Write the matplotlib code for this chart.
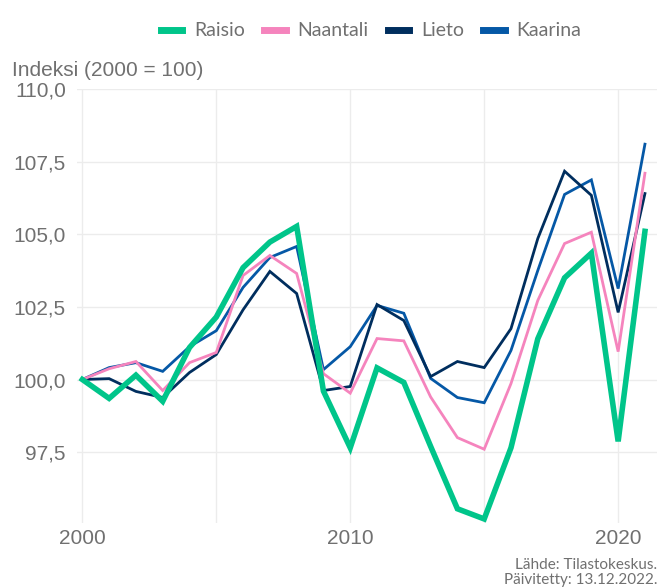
import matplotlib
matplotlib.use("Agg")
import matplotlib.pyplot as plt
from matplotlib.ticker import FixedLocator, FuncFormatter

years = list(range(2000, 2022))
raisio = [100.0, 99.35, 100.15, 99.25, 101.1, 102.15, 103.85, 104.73, 105.27, 99.6, 97.65,
          100.4, 99.9, 97.7, 95.55, 95.2, 97.65, 101.4, 103.5, 104.35, 97.87, 105.1]
naantali = [100.0, 100.37, 100.62, 99.62, 100.58, 100.93, 103.58, 104.27, 103.65, 100.2, 99.53,
            101.41, 101.33, 99.4, 98.0, 97.6, 99.86, 102.72, 104.68, 105.07, 100.96, 107.1]
lieto = [100.0, 100.03, 99.59, 99.38, 100.24, 100.86, 102.4, 103.72, 102.96, 99.62, 99.76,
         102.58, 102.03, 100.1, 100.62, 100.41, 101.75, 104.85, 107.17, 106.34, 102.31, 106.4]
kaarina = [100.0, 100.41, 100.58, 100.28, 101.13, 101.68, 103.17, 104.2, 104.58, 100.34, 101.13,
           102.55, 102.28, 100.04, 99.38, 99.2, 101.0, 103.75, 106.37, 106.87, 103.13, 108.1]

series_names = ["Raisio", "Naantali", "Lieto", "Kaarina"]
y_ticks = [97.5, 100.0, 102.5, 105.0, 107.5, 110.0]
x_ticks = [2000, 2010, 2020]

colors = {"Raisio": "#00c58a", "Naantali": "#f584bd", "Lieto": "#002e5e", "Kaarina": "#0558a6"}
widths = {"Raisio": 4.0, "Naantali": 2.0, "Lieto": 2.0, "Kaarina": 2.0}
zorders = {"Raisio": 6, "Naantali": 5, "Lieto": 4, "Kaarina": 3}

plt.rcParams['font.family'] = ['Liberation Sans', 'DejaVu Sans']
txt = "#707070"
lato = ['Lato', 'DejaVu Sans']

fig = plt.figure(figsize=(6.67, 5.87), dpi=100)
ax = fig.add_axes([0.1154, 0.109, 0.985 - 0.1154, 0.8484 - 0.109])

data = {"Raisio": raisio, "Naantali": naantali, "Lieto": lieto, "Kaarina": kaarina}
for name in series_names:
    ax.plot(years, data[name], color=colors[name], lw=widths[name],
            zorder=zorders[name], solid_joinstyle='miter', label=name)

ax.set_xlim(1999.8, 2021.45)
ax.set_ylim(95.06, 110.0)
ax.yaxis.set_major_locator(FixedLocator(y_ticks))
ax.yaxis.set_major_formatter(FuncFormatter(lambda v, p: f"{v:.1f}".replace('.', ',')))
ax.xaxis.set_major_locator(FixedLocator(x_ticks))
ax.xaxis.set_minor_locator(FixedLocator([2005, 2015]))

ax.grid(True, which='both', color='#ececec', lw=1.0, zorder=0)
ax.set_axisbelow(True)
for s in ax.spines.values():
    s.set_visible(False)
ax.tick_params(axis='both', which='both', length=0, colors=txt, labelsize=15)
ax.tick_params(axis='y', pad=8)
ax.tick_params(axis='x', pad=4)

fig.text(12/667, 1 - 71/587, "Indeksi (2000 = 100)", color=txt, fontsize=15,
         ha='left', va='center')

leg_handles = [plt.Line2D([0], [0], color=colors[n], lw=5) for n in series_names]
fig.legend(leg_handles, series_names, loc='center', bbox_to_anchor=(371/667, 1 - 31/587),
           ncol=4, frameon=False, handlelength=1.1, handletextpad=0.6,
           columnspacing=1.0, labelcolor=txt,
           prop={'family': lato, 'weight': 'normal', 'size': 14})

fig.text(657/667, 1 - 565/587, "Lähde: Tilastokeskus.", color=txt, fontsize=11,
         ha='right', va='center', family=lato)
fig.text(657/667, 1 - 580/587, "Päivitetty: 13.12.2022.", color=txt, fontsize=11,
         ha='right', va='center', family=lato)

fig.savefig("out.png", dpi=100)
